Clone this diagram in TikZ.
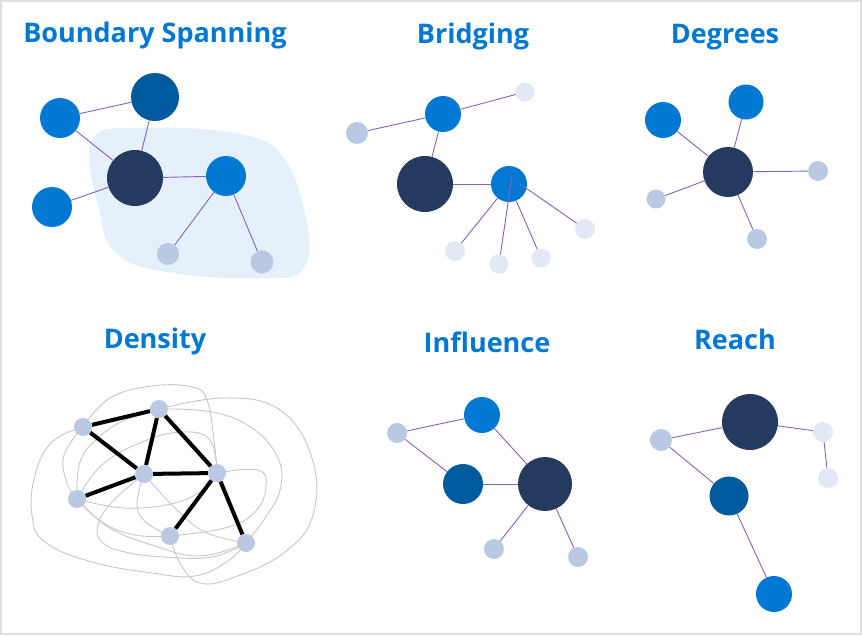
\documentclass[tikz,border=0pt]{standalone}
\usepackage{fontspec}
\setmainfont{Open Sans}
\definecolor{msblue}{HTML}{0078D4}
\definecolor{msnavy}{HTML}{243A5E}
\definecolor{msdeep}{HTML}{005A9E}
\definecolor{mspale}{HTML}{B9C9E4}
\definecolor{msfaint}{HTML}{E3E9F4}
\definecolor{mslink}{HTML}{8661C5}
\definecolor{msblob}{HTML}{E5F0FA}
\tikzset{
  dot/.style={circle,inner sep=0pt,draw=none},
  title/.style={anchor=base,text=msblue,font=\fontsize{27}{30}\selectfont\bfseries},
  link/.style={draw=mslink,line width=0.9pt},
  tie/.style={draw=black,line width=4pt},
  loose/.style={draw=black!22,line width=0.9pt}
}
\begin{document}
\begin{tikzpicture}[x=1pt,y=1pt]

  \useasboundingbox (0,0) rectangle (862,-635);
  \draw[black!12,line width=2pt] (1,-1) rectangle (861,-634);

  % titles
  \node[title] (t1) at (155,-42)  {Boundary Spanning};
  \node[title] (t2) at (473,-43)  {Bridging};
  \node[title] (t3) at (725,-43)  {Degrees};
  \node[title] (t4) at (155,-348) {Density};
  \node[title] (t5) at (487,-352) {Influence};
  \node[title] (t6) at (735,-349) {Reach};

  % boundary spanning
  \fill[msblob] plot[smooth cycle,tension=0.7] coordinates {(92,-140) (140,-128)
    (240,-134) (285,-160) (308,-230) (302,-270) (270,-278) (180,-274) (118,-255) (98,-205)};
  \begin{scope}[every node/.style={dot}]
    \node[fill=msblue,minimum size=40pt]  (sa) at (60,-118)  {};
    \node[fill=msdeep,minimum size=48pt]  (sb) at (155,-97)  {};
    \node[fill=msnavy,minimum size=56pt]  (sc) at (135,-178) {};
    \node[fill=msblue,minimum size=40pt]  (sd) at (52,-207)  {};
    \node[fill=msblue,minimum size=40pt]  (se) at (226,-176) {};
    \node[fill=mspale,minimum size=22pt]  (sf) at (168,-254) {};
    \node[fill=mspale,minimum size=23pt]  (sg) at (262,-262) {};
  \end{scope}
  \begin{scope}[every edge/.style={link}]
    \path (sa) edge (sb);
    \path (sa) edge (sc);
    \path (sb) edge (sc);
    \path (sd) edge (sc);
    \path (sc) edge (se);
    \path (se) edge (sf);
    \path (se) edge (sg);
  \end{scope}

  % bridging
  \begin{scope}[every node/.style={dot}]
    \node[fill=msblue,minimum size=36pt]  (ba) at (443,-114) {};
    \node[fill=mspale,minimum size=22pt]  (bb) at (357,-133) {};
    \node[fill=msfaint,minimum size=19pt] (bc) at (525,-92)  {};
    \node[fill=msnavy,minimum size=56pt]  (bd) at (425,-184) {};
    \node[fill=msblue,minimum size=36pt]  (be) at (509,-184) {};
    \node[fill=msfaint,minimum size=20pt] (bf) at (585,-229) {};
    \node[fill=msfaint,minimum size=20pt] (bg) at (455,-251) {};
    \node[fill=msfaint,minimum size=19pt] (bh) at (499,-264) {};
    \node[fill=msfaint,minimum size=19pt] (bi) at (541,-258) {};
  \end{scope}
  \coordinate (bx) at (512,-176);
  \coordinate (by) at (520,-184);
  \begin{scope}[every edge/.style={link}]
    \path (bb) edge (ba);
    \path (ba) edge (bc);
    \path (ba) edge (bd);
    \path (bd) edge (be);
    \path (be) edge (bg);
    \path (bx) edge (bh);
    \path (be) edge (bi);
    \path (by) edge (bf);
  \end{scope}

  % degrees
  \begin{scope}[every node/.style={dot}]
    \node[fill=msblue,minimum size=36pt]  (da) at (663,-120) {};
    \node[fill=msblue,minimum size=35pt]  (db) at (746,-102) {};
    \node[fill=msnavy,minimum size=50pt]  (dc) at (728,-172) {};
    \node[fill=mspale,minimum size=20pt]  (dd) at (818,-171) {};
    \node[fill=mspale,minimum size=19pt]  (de) at (656,-199) {};
    \node[fill=mspale,minimum size=20pt]  (df) at (757,-239) {};
  \end{scope}
  \begin{scope}[every edge/.style={link}]
    \path (dc) edge (da);
    \path (dc) edge (db);
    \path (dc) edge (dd);
    \path (dc) edge (de);
    \path (dc) edge (df);
  \end{scope}

  % density
  \begin{scope}[every node/.style={dot,minimum size=18pt}]
    \node (pa) at (83,-427)  {};
    \node (pb) at (159,-409) {};
    \node (pc) at (144,-474) {};
    \node (pd) at (217,-473) {};
    \node (pe) at (77,-499)  {};
    \node (pf) at (170,-536) {};
    \node (pg) at (246,-543) {};
  \end{scope}
  \begin{scope}[loose,smooth,tension=0.7]
    \draw plot coordinates {(pb.center) (225,-398) (280,-410) (312,-458) (313,-515)
      (285,-552) (235,-577) (200,-583) (180,-563) (pf.center)};
    \draw plot coordinates {(pb.center) (212,-412) (252,-428) (278,-458) (280,-490)
      (265,-518) (pg.center)};
    \draw plot coordinates {(pa.center) (110,-398) (152,-386) (192,-387) (207,-400)
      (214,-440) (pd.center)};
    \draw plot coordinates {(pa.center) (52,-442) (35,-475) (32,-515) (45,-542)
      (92,-562) (152,-573) (195,-576) (228,-561) (pg.center)};
    \draw plot coordinates {(pa.center) (64,-455) (67,-483) (pe.center)};
    \draw plot coordinates {(pe.center) (80,-462) (98,-438) (125,-420) (pb.center)};
    \draw plot coordinates {(pe.center) (102,-465) (142,-442) (182,-432) (210,-440)
      (pd.center)};
    \draw plot coordinates {(pe.center) (125,-508) (175,-503) (205,-488) (pd.center)};
    \draw plot coordinates {(pd.center) (258,-470) (266,-487) (255,-512) (225,-528)
      (pf.center)};
    \draw plot coordinates {(pe.center) (102,-522) (135,-535) (pf.center)};
    \draw plot coordinates {(pe.center) (108,-527) (152,-545) (200,-556) (pg.center)};
    \draw plot coordinates {(pc.center) (137,-505) (147,-523) (pf.center)};
    \draw plot coordinates {(pc.center) (112,-502) (98,-525) (102,-542) (125,-552)
      (165,-557) (212,-557) (pg.center)};
    \draw plot coordinates {(pc.center) (175,-508) (205,-532) (pg.center)};
  \end{scope}
  \begin{scope}[every edge/.style={tie}]
    \path (pa) edge (pb);
    \path (pa) edge (pc);
    \path (pb) edge (pc);
    \path (pb) edge (pd);
    \path (pc) edge (pd);
    \path (pc) edge (pe);
    \path (pd) edge (pf);
    \path (pd) edge (pg);
  \end{scope}
  \foreach \p in {pa,pb,pc,pd,pe,pf,pg}
    \fill[mspale] (\p) circle (9pt);

  % influence
  \begin{scope}[every node/.style={dot}]
    \node[fill=msblue,minimum size=36pt]  (ia) at (482,-415) {};
    \node[fill=mspale,minimum size=20pt]  (ib) at (397,-433) {};
    \node[fill=msdeep,minimum size=40pt]  (ic) at (463,-484) {};
    \node[fill=msnavy,minimum size=54pt]  (id) at (545,-484) {};
    \node[fill=mspale,minimum size=20pt]  (ie) at (494,-549) {};
    \node[fill=mspale,minimum size=20pt]  (if) at (578,-557) {};
  \end{scope}
  \begin{scope}[every edge/.style={link}]
    \path (ib) edge (ia);
    \path (ib) edge (ic);
    \path (ia) edge (id);
    \path (ic) edge (id);
    \path (id) edge (ie);
    \path (id) edge (if);
  \end{scope}

  % reach
  \begin{scope}[every node/.style={dot}]
    \node[fill=msnavy,minimum size=56pt]  (ra) at (750,-422) {};
    \node[fill=mspale,minimum size=22pt]  (rb) at (661,-440) {};
    \node[fill=msfaint,minimum size=20pt] (rc) at (823,-432) {};
    \node[fill=msfaint,minimum size=20pt] (rd) at (828,-478) {};
    \node[fill=msdeep,minimum size=39pt]  (re) at (729,-496) {};
    \node[fill=msblue,minimum size=36pt]  (rf) at (774,-594) {};
  \end{scope}
  \begin{scope}[every edge/.style={link}]
    \path (rb) edge (ra);
    \path (ra) edge (rc);
    \path (rc) edge (rd);
    \path (rb) edge (re);
    \path (re) edge (rf);
  \end{scope}

\end{tikzpicture}
\end{document}
